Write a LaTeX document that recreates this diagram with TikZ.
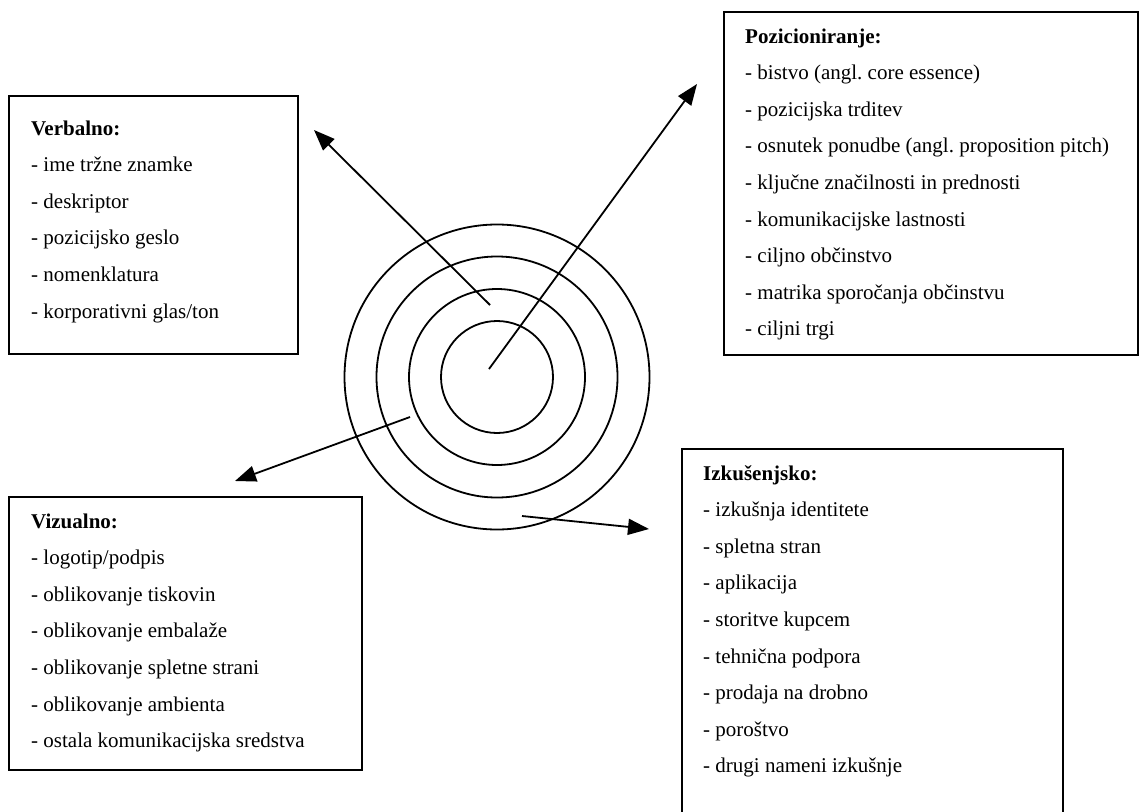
\documentclass[tikz,border=0pt]{standalone}
\usepackage{fontspec}
\setmainfont{Liberation Serif}
\usetikzlibrary{arrows.meta}
\frenchspacing
\begin{document}
\begin{tikzpicture}[x=1pt,y=-1pt,
  framebox/.style={draw=black, line width=1.8pt, fill=none},
  ring/.style={circle, draw=black, line width=1.8pt, inner sep=0pt},
  listtext/.style={anchor=base west, inner sep=0pt, font=\fontsize{21}{25}\selectfont},
  arr/.style={line width=1.8pt, -{Triangle[length=21pt,width=16pt]}}]
\useasboundingbox (0,0) rectangle (1140,811);
\fill[white] (0,0) rectangle (1140,811);

% boxes
\draw[framebox] (9,96) rectangle (298,354);
\draw[framebox] (724,12) rectangle (1138,355);
\draw[framebox] (9,497) rectangle (362,770);
\draw[framebox] (682,449) rectangle (1063,830);

% concentric circles
\coordinate (ctr) at (497,377);
\node[ring, minimum size=112pt] (c1) at (ctr) {};
\node[ring, minimum size=176pt] (c2) at (ctr) {};
\node[ring, minimum size=241pt] (c3) at (ctr) {};
\node[ring, minimum size=305pt] (c4) at (ctr) {};

% arrows
\coordinate (a1s) at (490,305); \coordinate (a1e) at (314,130);
\coordinate (a2s) at (489,369); \coordinate (a2e) at (697,84);
\coordinate (a3s) at (410,417); \coordinate (a3e) at (235,481);
\coordinate (a4s) at (522,516); \coordinate (a4e) at (649,529);
\draw[arr] (a1s) -- (a1e);
\draw[arr] (a2s) -- (a2e);
\draw[arr] (a3s) -- (a3e);
\draw[arr] (a4s) -- (a4e);

% texts
\foreach \t [count=\i from 0] in {\textbf{Verbalno:}, - ime tržne znamke, - deskriptor, - pozicijsko geslo, - nomenklatura, - korporativni glas/ton}
  \node[listtext] (verb-\i) at (31,{135+36.6*\i}) {\t};
\foreach \t [count=\i from 0] in {\textbf{Pozicioniranje:}, - bistvo (angl. core essence), - pozicijska trditev, - osnutek ponudbe (angl. proposition pitch), - ključne značilnosti in prednosti, - komunikacijske lastnosti, - ciljno občinstvo, - matrika sporočanja občinstvu, - ciljni trgi}
  \node[listtext] (poz-\i) at (745,{43+36.6*\i}) {\t};
\foreach \t [count=\i from 0] in {\textbf{Vizualno:}, - logotip/podpis, - oblikovanje tiskovin, - oblikovanje embalaže, - oblikovanje spletne strani, - oblikovanje ambienta, - ostala komunikacijska sredstva}
  \node[listtext] (viz-\i) at (31,{528+36.6*\i}) {\t};
\foreach \t [count=\i from 0] in {\textbf{Izkušenjsko:}, - izkušnja identitete, - spletna stran, - aplikacija, - storitve kupcem, - tehnična podpora, - prodaja na drobno, - poroštvo, - drugi nameni izkušnje}
  \node[listtext] (izk-\i) at (703,{480+36.6*\i}) {\t};
\end{tikzpicture}
\end{document}
